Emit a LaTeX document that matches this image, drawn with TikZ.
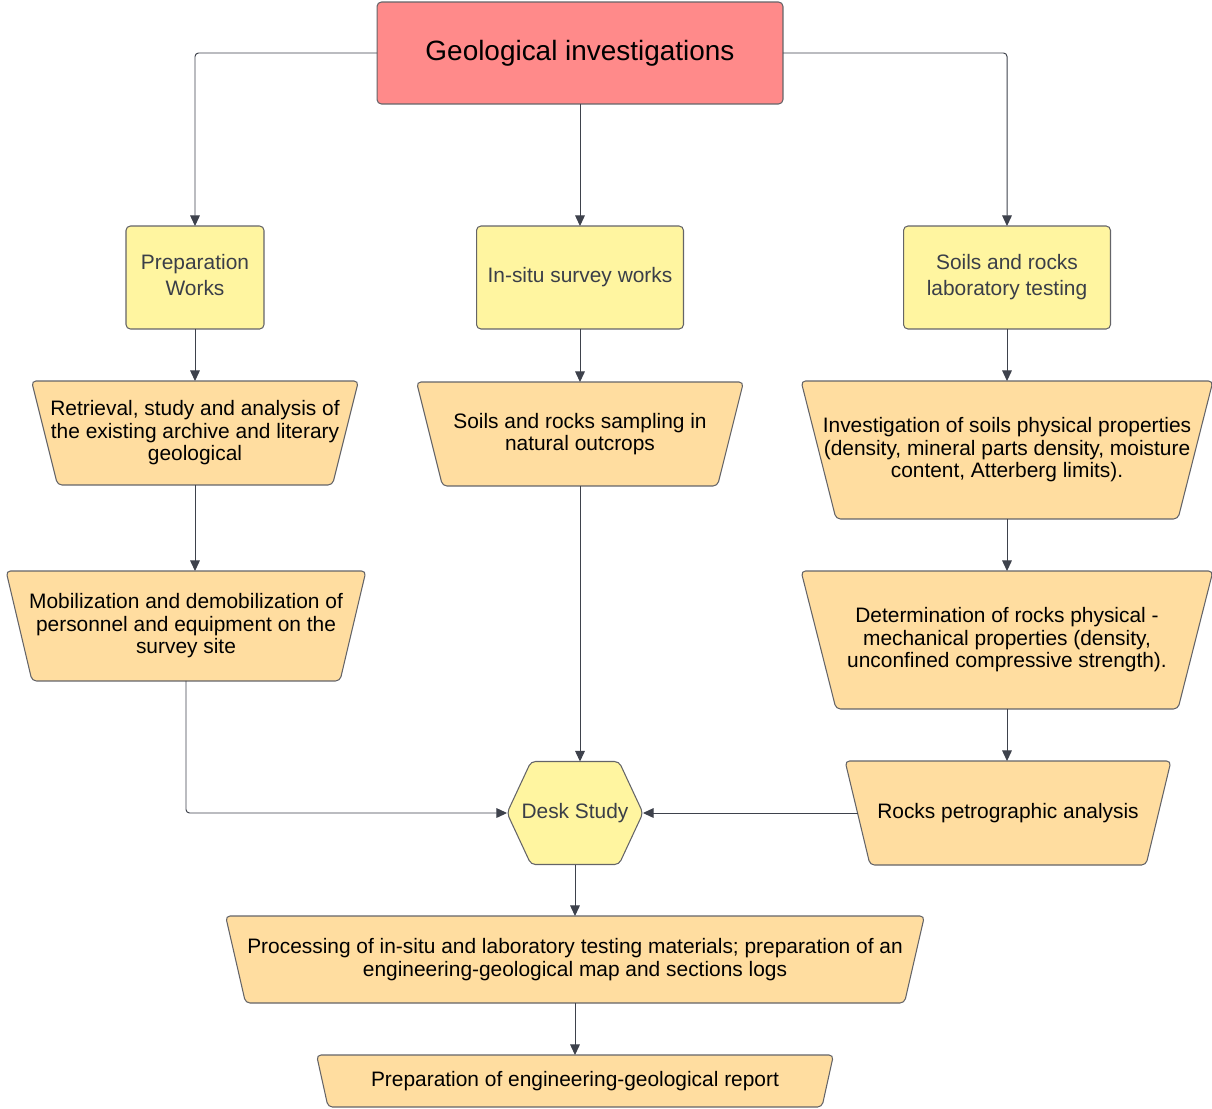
\documentclass[tikz,border=0pt]{standalone}
\usepackage{fontspec}
\setmainfont{Liberation Sans}
\usetikzlibrary{arrows.meta,backgrounds}

\definecolor{titlered}{RGB}{255,138,138}
\definecolor{workyellow}{RGB}{255,245,160}
\definecolor{taskorange}{RGB}{255,221,160}
\definecolor{edgegray}{RGB}{100,100,104}
\definecolor{linegray}{RGB}{62,66,76}
\definecolor{labelgray}{RGB}{58,62,72}

\tikzset{
  base/.style={outer sep=0pt, align=center, inner sep=2pt, font=\fontsize{11.9}{12.8}\selectfont},
  outline/.style={draw=edgegray, line width=0.6pt, rounded corners=2.5pt},
  topbox/.style={base, outline, rectangle, fill=titlered, minimum width=8.12cm, minimum height=2.04cm,
    font=\fontsize{15.9}{18}\selectfont},
  workbox/.style={base, outline, rectangle, fill=workyellow, text=labelgray, minimum height=2.06cm,
    font=\fontsize{11.9}{14.7}\selectfont},
  taskbox/.style={base, rectangle},
  deskbox/.style={base, rectangle, text=labelgray, minimum width=2.72cm, minimum height=2.06cm},
  link/.style={draw=linegray, line width=0.55pt, -{Triangle[length=6pt,width=5.5pt]},
    rounded corners=2pt},
}

\begin{document}
\begin{tikzpicture}[x=0.02cm, y=-0.02cm]
  \useasboundingbox (0,0) rectangle (1212,1108);

  % Top node
  \node[topbox] (geo) at (580,53) {Geological investigations};

  % Three branches
  \node[workbox, minimum width=2.76cm] (prep) at (195,277.5) {Preparation\\Works\vphantom{g}};
  \node[workbox, minimum width=4.14cm] (insitu) at (580,277.5) {In-situ survey works};
  \node[workbox, minimum width=4.14cm] (lab) at (1007,277.5) {Soils and rocks\\laboratory testing};

  % Left column
  \node[taskbox, minimum width=6.54cm, minimum height=2.08cm] (ret) at (195,433)
    {Retrieval, study and analysis of\\the existing archive and literary\\geological};
  \node[taskbox, minimum width=7.2cm, minimum height=2.2cm] (mob) at (186,626)
    {Mobilization and demobilization of\\personnel and equipment on the\\survey site};

  % Middle column
  \node[taskbox, minimum width=6.54cm, minimum height=2.08cm] (samp) at (580,434)
    {Soils and rocks sampling in\\natural outcrops};

  % Right column
  \node[taskbox, minimum width=8.24cm, minimum height=2.76cm] (soil) at (1007,450)
    {Investigation of soils physical properties\\(density, mineral parts density, moisture\\content, Atterberg limits).};
  \node[taskbox, minimum width=8.24cm, minimum height=2.76cm] (rock) at (1007,640)
    {Determination of rocks physical -\\mechanical properties (density,\\unconfined compressive strength).};
  \node[taskbox, minimum width=6.52cm, minimum height=2.08cm] (petro) at (1008,813)
    {Rocks petrographic analysis};

  % Desk study and results
  \node[deskbox] (desk) at (575,813) {Desk Study};
  \node[taskbox, minimum width=13.98cm, minimum height=1.74cm] (proc) at (575,959.5)
    {Processing of in-situ and laboratory testing materials; preparation of an\\engineering-geological map and sections logs};
  \node[taskbox, minimum width=10.34cm, minimum height=1.04cm] (report) at (575,1081)
    {Preparation of engineering-geological report};

  % Trapezoid outlines (wide side on top) and the hexagon, behind the text
  \begin{scope}[on background layer]
    \foreach \n/\d in {ret/26, mob/26, samp/26, soil/35, rock/35, petro/25, proc/20, report/11.5}
      \draw[outline, fill=taskorange] (\n.north west) -- (\n.north east)
        -- ([xshift=-\d*0.02cm]\n.south east) -- ([xshift=\d*0.02cm]\n.south west) -- cycle;
    \draw[outline, fill=workyellow] (desk.west) -- ([xshift=0.48cm]desk.north west)
      -- ([xshift=-0.48cm]desk.north east) -- (desk.east)
      -- ([xshift=-0.48cm]desk.south east) -- ([xshift=0.48cm]desk.south west) -- cycle;
  \end{scope}

  % Connectors
  \draw[link] (geo.west) -| (prep.north);
  \draw[link] (geo.south) -- (insitu.north);
  \draw[link] (geo.east) -| (lab.north);
  \draw[link] (prep.south) -- (ret.north);
  \draw[link] (ret.south) -- (ret.south |- mob.north);
  \draw[link] (mob.south) |- (desk.west);
  \draw[link] (insitu.south) -- (samp.north);
  \draw[link] (samp.south) -- (samp.south |- desk.north);
  \draw[link] (lab.south) -- (soil.north);
  \draw[link] (soil.south) -- (rock.north);
  \draw[link] (rock.south) -- (rock.south |- petro.north);
  \draw[link] ([xshift=0.25cm]petro.west) -- (desk.east);
  \draw[link] (desk.south) -- (proc.north);
  \draw[link] (proc.south) -- (report.north);
\end{tikzpicture}
\end{document}
